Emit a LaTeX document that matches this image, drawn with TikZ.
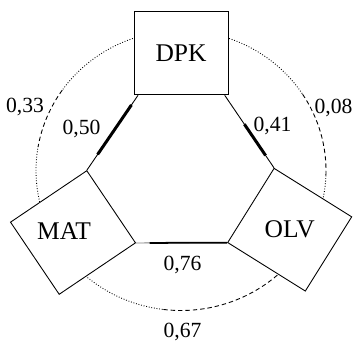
\documentclass[tikz,border=0pt]{standalone}
\usepackage{fontspec}
\setmainfont{Liberation Serif}
\usetikzlibrary{calc}

\begin{document}
\begin{tikzpicture}[
        box/.style={draw, fill=white, line width=0.5pt, inner sep=0pt,
            minimum width=1.84cm, minimum height=1.74cm},
        boxname/.style={font=\fontsize{14.5}{17}\selectfont},
        weight/.style={font=\fontsize{12.3}{14}\selectfont},
        ring/.style={line width=0.5pt, densely dotted},
        ringdash/.style={line width=0.5pt, dash pattern=on 2.5pt off 1.7pt},
        link/.style={line width=0.5pt},
        strong/.style={line width=1.7pt}
    ]
        \useasboundingbox (-3.62,-3.43) rectangle (3.46,3.41);

        % outer ring
        \draw[ring] (100:2.9cm and 2.8cm) arc[start angle=100, end angle=145, x radius=2.9, y radius=2.8];
        \draw[ringdash] (145:2.9cm and 2.8cm) arc[start angle=145, end angle=170, x radius=2.9, y radius=2.8];
        \draw[ring] (170:2.9cm and 2.8cm) arc[start angle=170, end angle=200, x radius=2.9, y radius=2.8];
        \draw[ring] (80:2.9cm and 2.8cm) arc[start angle=80, end angle=33, x radius=2.9, y radius=2.8];
        \draw[ringdash] (33:2.9cm and 2.8cm) arc[start angle=33, end angle=-2, x radius=2.9, y radius=2.8];
        \draw[ring] (-2:2.9cm and 2.8cm) arc[start angle=-2, end angle=-25, x radius=2.9, y radius=2.8];
        \draw[ring] (-145:2.9cm and 2.8cm) arc[start angle=-145, end angle=-97, x radius=2.9, y radius=2.8];
        \draw[ringdash] (-97:2.9cm and 2.8cm) arc[start angle=-97, end angle=-35, x radius=2.9, y radius=2.8];

        % boxes
        \node[box, boxname, minimum width=1.88cm, minimum height=1.66cm] (dpk) at (0,2.344) {DPK};
        \node[box, rotate=34] (mat) at (-2.16,-1.24) {};
        \node[box, rotate=-32, minimum width=1.83cm, minimum height=1.75cm] (olv) at (2.174,-1.184) {};
        \node[boxname] (matname) at (-2.34,-1.21) {MAT};
        \node[boxname] (olvname) at (olv) {OLV};

        % inner links
        \coordinate (dpkl) at ([xshift=0.09cm]dpk.south west);
        \coordinate (dpkr) at ([xshift=-0.075cm]dpk.south east);
        \draw[link] (dpkl) -- (mat.north east);
        \draw[strong] ($(dpkl)!0.13!(mat.north east)$) -- ($(dpkl)!0.79!(mat.north east)$);
        \draw[link] (dpkr) -- (olv.north west);
        \draw[strong] ($(dpkr)!0.4!(olv.north west)$) -- ($(dpkr)!0.83!(olv.north west)$);
        \draw[link, gray] (mat.south east) -- (olv.south west);
        \draw[line width=1pt] ($(mat.south east)!0.15!(olv.south west)$) -- (olv.south west);

        % weights
        \node[weight] (w33) at (-3.12,1.27) {0,33};
        \node[weight] (w50) at (-1.99,0.84) {0,50};
        \node[weight] (w41) at (1.83,0.9) {0,41};
        \node[weight] (w08) at (3.05,1.26) {0,08};
        \node[weight] (w76) at (0.03,-1.88) {0,76};
        \node[weight] (w67) at (0.03,-3.22) {0,67};
    \end{tikzpicture}
\end{document}
